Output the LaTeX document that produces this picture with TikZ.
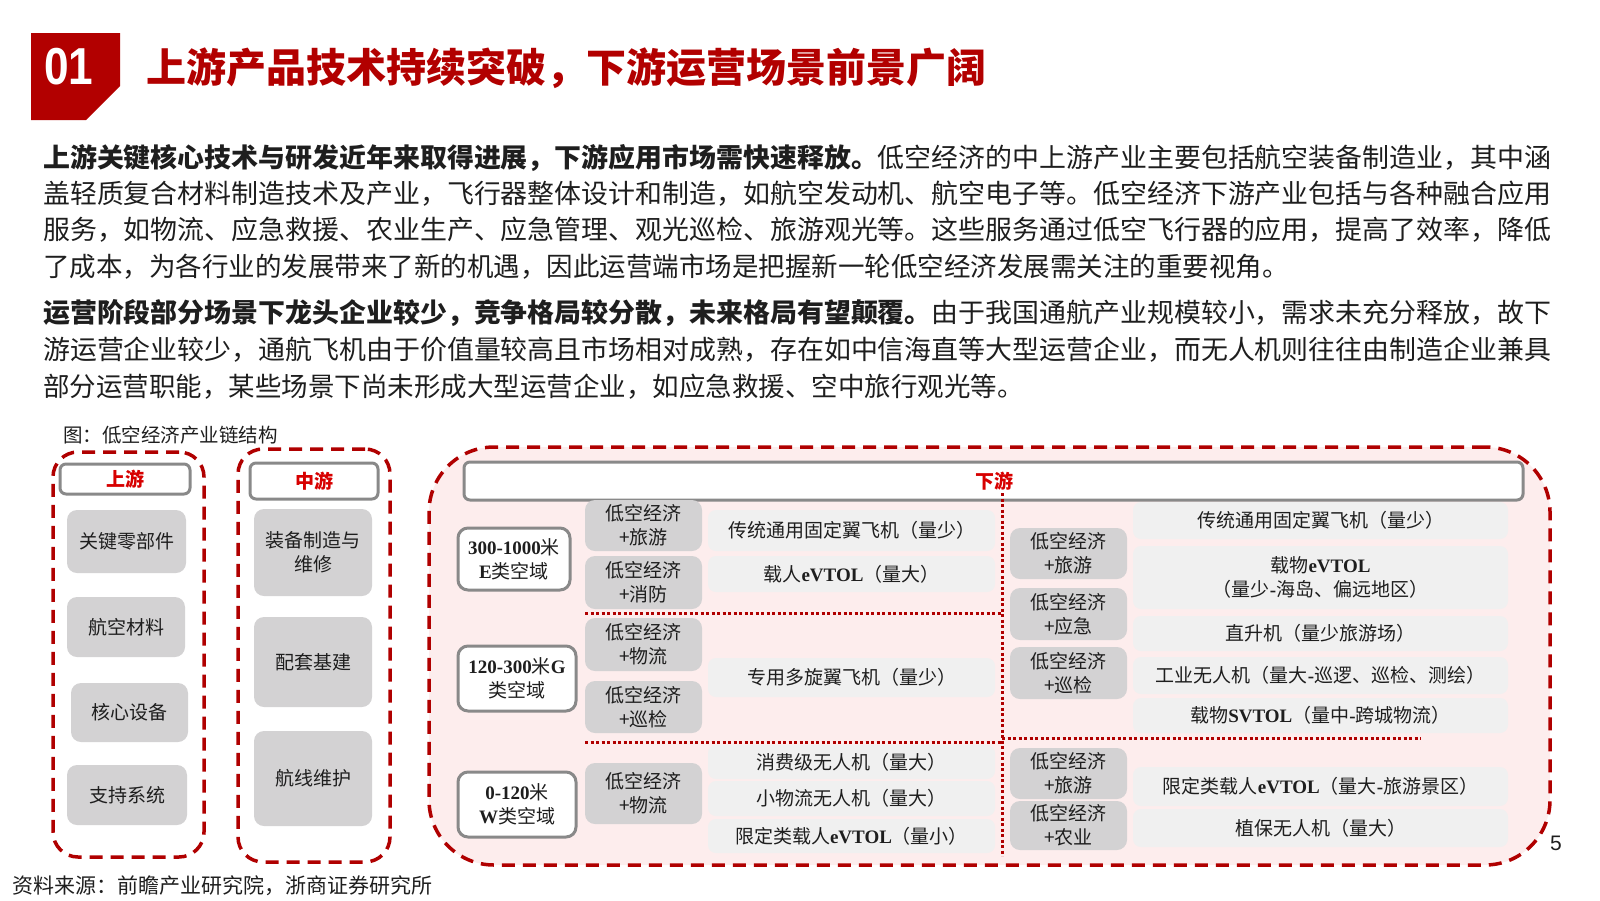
\documentclass[tikz,border=0pt]{standalone}
\usepackage{fontspec}
\usepackage{graphicx}
\setmainfont{Noto Sans CJK SC}
\newfontfamily\tms{Liberation Serif}
\newfontfamily\arl{Liberation Sans}
\definecolor{dred}{RGB}{176,0,0}
\definecolor{tred}{RGB}{178,0,0}
\definecolor{hred}{RGB}{215,0,0}
\definecolor{pinkf}{RGB}{253,237,237}
\definecolor{bgray}{RGB}{211,210,211}
\definecolor{lgray}{RGB}{240,240,240}
\definecolor{hgray}{RGB}{137,137,137}
\definecolor{txt}{RGB}{30,30,30}
\newcommand\bx[7]{\node[#2, minimum width=#5pt, minimum height=#6pt] (#1) at (#3,#4) {#7};}
\newcommand\lt[1]{{\tms\bfseries #1}}
\newcommand\jline[1]{\resizebox{1508pt}{\height}{#1}}
\begin{document}
\begin{tikzpicture}[x=1pt,y=-1pt,
  reddash/.style={draw=dred, line width=3.5pt, dash pattern=on 13pt off 8pt, inner sep=0pt},
  hdr/.style={draw=hgray, line width=3pt, fill=white, rounded corners=6pt, text=hred, inner sep=0pt,
    font=\fontsize{19}{22}\selectfont\bfseries},
  gbox/.style={fill=bgray, rounded corners=10pt, align=center, text=txt, inner sep=0pt,
    font=\fontsize{19}{24}\selectfont},
  lbox/.style={fill=lgray, rounded corners=8pt, align=center, text=txt, inner sep=0pt,
    font=\fontsize{19}{24}\selectfont},
  abox/.style={draw=hgray, line width=3pt, fill=white, rounded corners=10pt, align=center, text=txt,
    inner sep=0pt, font=\fontsize{19}{24}\selectfont},
  dotl/.style={draw=dred, line width=3pt, dash pattern=on 3pt off 2.5pt},
  body/.style={anchor=west, inner sep=0pt, text=txt, font=\fontsize{26.5}{30}\selectfont}
]
\useasboundingbox (0,0) rectangle (1600,900);
% title
\fill[tred] (31,33) -- (120,33) -- (120,86) -- (86,120) -- (31,120) -- cycle;
\node[text=white, inner sep=0pt, font=\arl\bfseries\fontsize{52}{52}\selectfont] (num) at (69,67) {\scalebox{0.85}[1]{01}};
\node[anchor=west, inner sep=0pt, text=tred, font=\fontsize{40}{44}\selectfont\bfseries] (title) at (146,68)
  {上游产品技术持续突破，下游运营场景前景广阔};
% body text
\node[body] (p1a) at (43,158) {\jline{{\bfseries 上游关键核心技术与研发近年来取得进展，下游应用市场需快速释放。}低空经济的中上游产业主要包括航空装备制造业，其中涵}};
\node[body] (p1b) at (43,194) {\jline{盖轻质复合材料制造技术及产业，飞行器整体设计和制造，如航空发动机、航空电子等。低空经济下游产业包括与各种融合应用}};
\node[body] (p1c) at (43,230) {\jline{服务，如物流、应急救援、农业生产、应急管理、观光巡检、旅游观光等。这些服务通过低空飞行器的应用，提高了效率，降低}};
\node[body] (p1d) at (43,267) {了成本，为各行业的发展带来了新的机遇，因此运营端市场是把握新一轮低空经济发展需关注的重要视角。};
\node[body] (p2a) at (43,313) {\jline{{\bfseries 运营阶段部分场景下龙头企业较少，竞争格局较分散，未来格局有望颠覆。}由于我国通航产业规模较小，需求未充分释放，故下}};
\node[body] (p2b) at (43,350) {\jline{游运营企业较少，通航飞机由于价值量较高且市场相对成熟，存在如中信海直等大型运营企业，而无人机则往往由制造企业兼具}};
\node[body] (p2c) at (43,387) {部分运营职能，某些场景下尚未形成大型运营企业，如应急救援、空中旅行观光等。};
% caption & source
\node[anchor=west, inner sep=0pt, text=txt, font=\fontsize{19.5}{22}\selectfont] (cap) at (63,435) {图：低空经济产业链结构};
\node[anchor=west, inner sep=0pt, text=txt, font=\fontsize{21}{24}\selectfont] (src) at (12,886) {资料来源：前瞻产业研究院，浙商证券研究所};
\node[inner sep=0pt, text=txt, font=\arl\fontsize{21}{24}\selectfont] (pg) at (1556,843) {5};
% big downstream region
\node[reddash, fill=pinkf, rounded corners=65pt, minimum width=1121pt, minimum height=418pt] (down) at (989.5,656) {};
% upstream & midstream regions
\node[reddash, rounded corners=25pt, minimum width=151pt, minimum height=405pt] (up) at (128.5,654.5) {};
\node[reddash, rounded corners=25pt, minimum width=152pt, minimum height=413pt] (mid) at (314,655.5) {};
% headers
\bx{hup}{hdr}{125}{479}{130}{30}{上游}
\bx{hmid}{hdr}{314}{481}{128}{36}{中游}
\bx{hdown}{hdr}{993.5}{481}{1059}{38}{\hspace*{2pt}下游}
% upstream boxes
\bx{u1}{gbox}{126.5}{541.5}{119}{63}{关键零部件}
\bx{u2}{gbox}{126}{627}{118}{60}{航空材料}
\bx{u3}{gbox}{129.5}{712.5}{117}{59}{核心设备}
\bx{u4}{gbox}{127}{795}{120}{60}{支持系统}
% midstream boxes
\bx{m1}{gbox}{313}{552.5}{118}{87}{装备制造与\\维修}
\bx{m2}{gbox}{313}{662}{118}{90}{配套基建}
\bx{m3}{gbox}{313}{778.5}{118}{95}{航线维护}
% airspace boxes
\bx{a1}{abox}{514}{559}{112}{62}{\lt{300-1000}米\\\lt{E}类空域}
\bx{a2}{abox}{517}{678.5}{118}{65}{\lt{120-300}米\lt{G}\\类空域}
\bx{a3}{abox}{517}{804.5}{118}{65}{\lt{0-120}米\\\lt{W}类空域}
% left scenario boxes
\bx{s1}{gbox}{643.5}{525.5}{117}{51}{低空经济\\+旅游}
\bx{s2}{gbox}{643.5}{582.5}{117}{53}{低空经济\\+消防}
\bx{s3}{gbox}{643.5}{644.5}{117}{53}{低空经济\\+物流}
\bx{s4}{gbox}{643.5}{707}{117}{52}{低空经济\\+巡检}
\bx{s5}{gbox}{643.5}{793.5}{117}{61}{低空经济\\+物流}
% left product boxes
\bx{l1}{lbox}{851.5}{530.5}{287}{41}{传统通用固定翼飞机（量少）}
\bx{l2}{lbox}{851.5}{574}{287}{36}{载人\lt{eVTOL}（量大）}
\bx{l3}{lbox}{851.5}{677.5}{287}{39}{专用多旋翼飞机（量少）}
\bx{l4}{lbox}{851.5}{762}{287}{34}{消费级无人机（量大）}
\bx{l5}{lbox}{851.5}{798.5}{287}{35}{小物流无人机（量大）}
\bx{l6}{lbox}{851.5}{836}{287}{34}{限定类载人\lt{eVTOL}（量小）}
% right scenario boxes
\bx{r1}{gbox}{1068.5}{553.5}{117}{51}{低空经济\\+旅游}
\bx{r2}{gbox}{1068.5}{614}{117}{52}{低空经济\\+应急}
\bx{r3}{gbox}{1068.5}{673}{117}{52}{低空经济\\+巡检}
\bx{r4}{gbox}{1068.5}{773.5}{117}{51}{低空经济\\+旅游}
\bx{r5}{gbox}{1068.5}{825.5}{117}{49}{低空经济\\+农业}
% right product boxes
\bx{q1}{lbox}{1320.5}{520.5}{375}{37}{传统通用固定翼飞机（量少）}
\bx{q2}{lbox}{1320.5}{577.5}{375}{63}{载物\lt{eVTOL}\\（量少\lt{-}海岛、偏远地区）}
\bx{q3}{lbox}{1320.5}{633.5}{375}{35}{直升机（量少旅游场）}
\bx{q4}{lbox}{1320.5}{675.5}{375}{37}{工业无人机（量大\lt{-}巡逻、巡检、测绘）}
\bx{q5}{lbox}{1320.5}{715.5}{375}{35}{载物\lt{SVTOL}（量中\lt{-}跨城物流）}
\bx{q6}{lbox}{1320.5}{786.5}{375}{39}{限定类载人\lt{eVTOL}（量大\lt{-}旅游景区）}
\bx{q7}{lbox}{1320.5}{828}{375}{38}{植保无人机（量大）}
% dotted separators
\coordinate (vt) at (1002,493);
\coordinate (vb) at (1002,856);
\coordinate (h1l) at (585,613);
\coordinate (h1r) at (1002,613);
\coordinate (h2l) at (585,742);
\coordinate (h2r) at (1002,742);
\coordinate (h3l) at (1002,738);
\coordinate (h3r) at (1421,738);
\draw[dotl] (vt) -- (vb);
\draw[dotl] (h1l) -- (h1r);
\draw[dotl] (h2l) -- (h2r);
\draw[dotl] (h3l) -- (h3r);
\end{tikzpicture}
\end{document}
